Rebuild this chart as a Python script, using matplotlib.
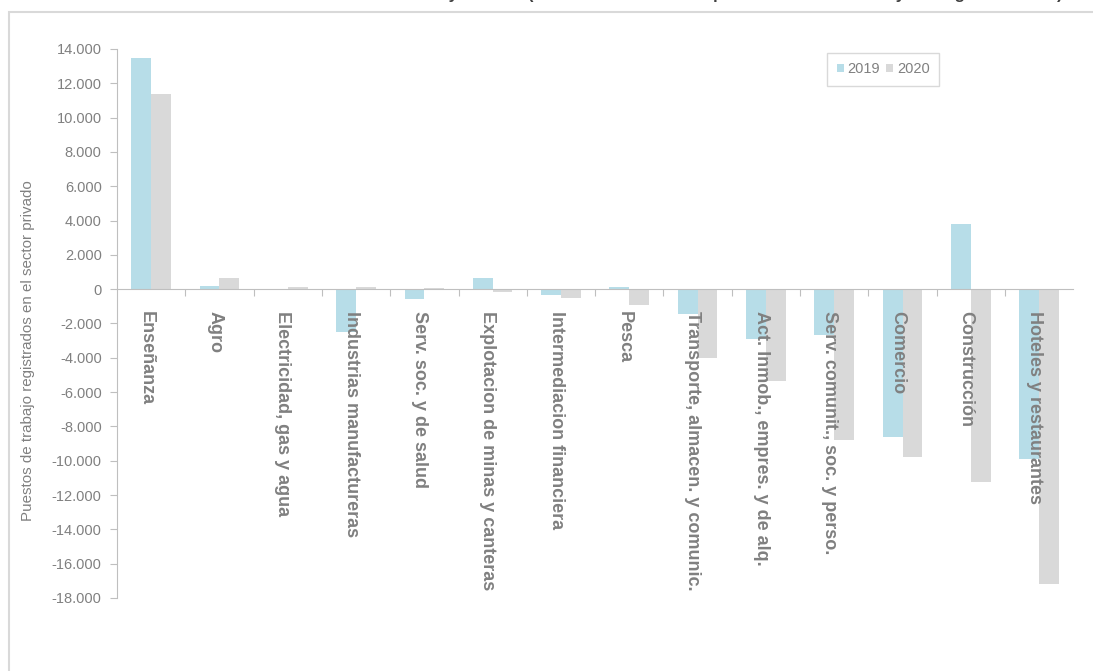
import numpy as np
import matplotlib
matplotlib.use("Agg")
import matplotlib.pyplot as plt
from matplotlib.patches import Rectangle
from matplotlib.ticker import FuncFormatter, FixedLocator

plt.rcParams['font.family'] = ['Liberation Sans', 'DejaVu Sans']

ramas = ['Enseñanza', 'Agro', 'Electricidad, gas y agua', 'Industrias manufactureras',
         'Serv. soc. y de salud', 'Explotacion de minas y canteras', 'Intermediacion financiera',
         'Pesca', 'Transporte, almacen. y comunic.', 'Act. Inmob., empres. y de alq.',
         'Serv. comunit., soc. y perso.', 'Comercio', 'Construcción', 'Hoteles y restaurantes']
var_2019 = [13450, 200, -30, -2480, -560, 660, -330, 100, -1450, -2900, -2700, -8600, 3800, -9920]
var_2020 = [11400, 650, 150, 100, 50, -150, -520, -900, -4000, -5350, -8780, -9770, -11220, -17200]

c2019 = '#B7DDE8'
c2020 = '#D9D9D9'
gris = '#808080'
eje = '#BFBFBF'

fig = plt.figure(figsize=(10.93, 6.71), dpi=100)
ax = fig.add_axes([0.107, 0.1088, 0.875, 0.8182])

x = np.arange(len(ramas))
w = 0.29
ax.bar(x - w / 2, var_2019, w, color=c2019, label='2019', zorder=2)
ax.bar(x + w / 2, var_2020, w, color=c2020, label='2020', zorder=2)

ax.set_xlim(-0.5, len(ramas) - 0.5)
ax.set_ylim(-18000, 14000)
ax.set_yticks(np.arange(-18000, 14001, 2000))
ax.yaxis.set_major_formatter(FuncFormatter(lambda v, p: f'{int(v):,}'.replace(',', '.')))

for s in ['top', 'right']:
    ax.spines[s].set_visible(False)
ax.spines['left'].set_color(eje)
ax.spines['bottom'].set_color(eje)
ax.spines['bottom'].set_position(('data', 0))
ax.spines['bottom'].set_zorder(3)

ax.xaxis.set_major_locator(FixedLocator(np.arange(0.5, len(ramas) - 0.5, 1)))
ax.set_xticklabels([])
ax.tick_params(axis='x', length=5, color=eje, direction='out')
ax.tick_params(axis='y', length=5, color=eje, labelcolor=gris, labelsize=10.5, pad=6)

# category names hang below the zero line, reading downward
for i, r in enumerate(ramas):
    ax.text(i - 0.07, -1300, r, rotation=270, ha='center', va='top', fontsize=13,
            fontweight='bold', color=gris)

ax.set_ylabel('Puestos de trabajo registrados en el sector privado', color=gris,
              fontsize=10.9)
ax.yaxis.set_label_coords(-0.0858, 0.45)

leg = ax.legend(loc='upper left', bbox_to_anchor=(0.7427, 0.9927), ncol=2, frameon=True,
                fancybox=False, edgecolor='#D0D0D0', fontsize=10.5, labelcolor=gris,
                handlelength=0.5, handleheight=0.5, handletextpad=0.25, columnspacing=0.4,
                borderpad=0.65, borderaxespad=0)
leg.get_frame().set_linewidth(1.0)

# outer chart frame
fig.patches.append(Rectangle((9 / 1093, -0.1), 1.2, 1.1 - 12 / 671,
                             transform=fig.transFigure, fill=False,
                             edgecolor='#D9D9D9', linewidth=1.5))

fig.text(1063 / 1093, 1 + 1.5 / 671,
         'Variación anual del total de asalariados en 2019 y en 2020 '
         '(diferencia absoluta de puestos de cada rubro y de origen sectorial)',
         ha='right', va='baseline', fontsize=12, fontweight='bold', color='#404040')

fig.savefig('out.png', dpi=100)
